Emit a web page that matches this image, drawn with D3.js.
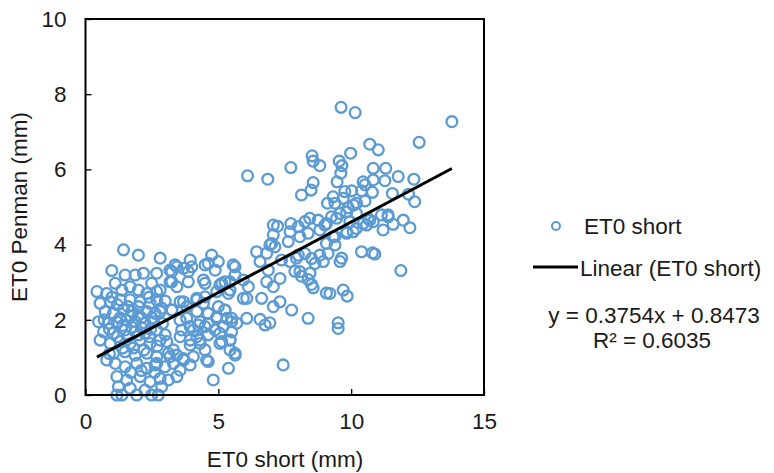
<!DOCTYPE html>
<html>
<head>
<meta charset="utf-8">
<script src="https://cdn.jsdelivr.net/npm/d3@7"></script>
<style>
  html, body { margin: 0; padding: 0; background: #fff; }
  text { font-family: "Liberation Sans", Arial, sans-serif; fill: #1a1a1a; }
</style>
</head>
<body>
<svg id="chart" width="774" height="473"></svg>
<script>
// ---- data ----
const xValues = [
  9.62,10.15,13.79,12.56,10.70,11.02,9.98,9.55,9.65,9.61,10.83,11.30,11.77,12.36,11.27,10.83,10.45,10.52,9.47,10.80,10.39,11.55,12.16,12.39,9.76,10.02,9.70,10.52,10.20,9.89,9.39,9.32,11.39,11.96,11.20,11.58,12.21,10.58,10.70,9.95,10.20,9.83,9.45,9.32,
  9.39,9.64,9.58,10.39,10.80,10.89,11.87,9.70,9.85,9.20,9.51,9.51,
  6.10,6.86,7.73,8.53,8.57,8.82,8.57,8.49,8.13,9.11,7.07,7.23,7.73,8.01,8.26,8.44,8.76,7.07,7.70,8.07,8.38,7.01,7.63,8.82,9.01,9.07,9.26,9.58,9.83,10.08,10.20,10.45,10.64,10.83,11.14,11.39,
  6.94,7.13,6.82,6.44,6.57,6.88,7.32,6.82,7.07,7.38,8.01,8.26,8.51,8.82,9.13,8.64,8.95,7.88,8.13,8.38,8.51,8.57,9.07,6.07,6.63,7.07,7.32,7.76,8.38,6.07,6.57,6.76,6.94,7.44,9.07,7.94,7.70,8.07,8.45,9.83,10.08,9.39,
  4.75,5.00,5.63,5.63,5.25,5.06,5.44,6.13,5.00,5.25,4.94,5.32,5.50,5.69,4.62,4.88,5.19,5.44,5.13,5.44,5.63,4.62,5.38,4.81,
  1.43,1.99,2.81,0.99,1.49,1.87,2.18,2.68,3.25,3.44,3.94,4.00,3.87,3.18,3.44,3.87,4.50,4.50,
  0.43,0.80,1.12,1.37,1.68,1.99,2.31,2.49,2.81,2.68,2.43,2.06,1.68,1.31,0.93,0.55,
  0.74,1.05,1.43,1.74,1.99,2.31,2.62,2.87,3.25,3.56,3.81,4.19,4.44,
  0.49,0.86,1.18,1.55,1.87,2.24,2.56,0.68,1.05,1.49,1.87,2.24,2.68,3.56,3.94,4.25,4.31,3.94,3.56,
  0.55,0.93,1.31,1.68,2.06,2.43,2.81,1.05,1.49,1.87,2.31,2.68,3.12,3.44,3.69,3.94,
  0.80,1.12,1.49,1.93,2.31,2.62,2.99,3.31,3.56,1.18,1.55,2.06,2.43,2.81,3.12,3.44,
  1.24,1.37,1.68,1.93,2.24,2.49,2.74,2.87,1.18,
  3.37,4.62,5.56,3.18,3.69,4.88,3.25,4.44,5.13,5.44,5.94,2.68,3.69,4.19,4.50,4.94,5.38,5.94,2.81,3.25,3.81,4.19,4.62,4.94,5.25,5.50,4.31,4.50,3.62,4.06,4.19,4.62,5.06,5.50,3.94,4.31,4.50,5.06,5.44,5.63,3.06,3.31,3.18,3.69,4.06,4.56,2.68,
  1.20,1.60,2.00,2.40,1.30,1.70,2.10,2.50,1.40,1.75,2.10,2.45,1.20,1.60,2.00,2.40,2.70,1.40,1.80,2.20,0.70,0.90,1.00,2.90,3.00,2.60,2.10,1.70,0.90,3.00
];
const yValues = [
  7.65,7.51,7.27,6.72,6.67,6.52,6.43,6.22,6.10,5.90,6.03,6.03,5.81,5.74,5.70,5.72,5.67,5.59,5.67,5.39,5.43,5.36,5.34,5.14,5.41,5.43,5.23,5.16,5.10,4.98,5.10,5.27,4.79,4.65,4.39,4.54,4.45,4.52,4.65,4.61,4.43,4.34,4.70,4.21,
  3.99,3.64,3.55,3.81,3.78,3.75,3.31,2.79,2.63,2.70,1.92,1.77,
  5.83,5.74,6.05,6.36,6.22,6.10,5.65,5.45,5.32,5.10,4.52,4.49,4.56,4.48,4.61,4.70,4.65,4.26,4.34,4.21,4.30,4.03,4.08,4.39,4.52,4.56,4.74,4.83,4.87,5.05,4.83,4.56,4.70,4.61,4.79,4.74,
  3.99,3.94,3.77,3.81,3.55,3.32,3.10,3.01,2.88,3.59,3.72,3.76,3.63,3.72,3.76,3.50,3.55,3.29,3.16,3.07,2.94,2.85,2.71,2.57,2.57,2.35,2.48,2.26,2.04,2.04,2.01,1.86,1.92,0.80,4.03,3.64,3.55,3.28,3.24,4.30,4.34,4.21,
  3.72,3.55,3.41,3.19,3.01,2.93,2.79,2.88,2.35,2.26,2.08,2.04,1.95,1.91,1.91,1.73,1.82,1.46,1.42,1.20,1.06,0.89,0.71,0.40,
  3.86,3.72,3.64,3.31,3.19,3.19,3.24,3.24,3.28,3.41,3.59,3.41,3.28,3.01,2.88,3.01,3.46,2.97,
  2.75,2.70,2.97,2.79,2.88,2.79,2.70,2.97,2.79,2.53,2.44,2.48,2.53,2.53,2.48,2.44,
  2.22,2.17,2.26,2.22,2.13,2.22,2.17,2.31,2.26,2.48,2.35,2.53,2.44,
  1.95,1.91,1.95,1.99,1.95,1.91,1.95,1.68,1.64,1.73,1.68,1.64,1.73,1.99,1.82,1.86,1.46,1.46,1.55,
  1.46,1.37,1.42,1.37,1.46,1.37,1.46,1.11,1.15,1.06,1.11,1.02,1.11,1.06,0.97,0.80,
  0.93,0.84,0.75,0.84,0.71,0.80,0.75,0.84,0.66,0.49,0.40,0.49,0.35,0.44,0.40,0.49,
  0.22,0.00,0.18,0.00,0.13,0.00,0.00,0.22,0.00,
  3.46,3.50,3.46,3.32,3.37,3.32,3.01,3.06,2.97,3.01,3.06,2.75,2.48,2.57,2.61,2.75,2.70,2.57,2.22,2.26,2.04,2.22,2.17,2.04,2.26,2.04,1.95,1.82,1.73,1.73,1.55,1.60,1.64,1.68,1.33,1.37,1.20,1.37,1.46,1.11,1.42,1.20,1.02,0.93,1.02,0.93,0.84,
  2.40,2.35,2.35,2.60,2.05,2.10,2.05,2.05,1.85,1.80,1.80,1.75,1.55,1.55,1.60,1.55,1.30,1.25,1.25,1.20,2.00,1.75,2.60,1.90,1.60,0.60,0.65,0.60,1.10,2.50
];
const seriesName = "ET0 short";
const trendName = "Linear (ET0 short)";
const slope = 0.3754;
const intercept = 0.8473;
const rSquared = "0.6035";
const xTicks = [0, 5, 10, 15];
const yTicks = [0, 2, 4, 6, 8, 10];
const xTitle = "ET0 short (mm)";
const yTitle = "ET0 Penman (mm)";

// ---- drawing ----
const svg = d3.select("#chart");
const L = 85.5, R = 484, T = 19, B = 395;
const x = d3.scaleLinear().domain([0, 15]).range([L, R]);
const y = d3.scaleLinear().domain([0, 10]).range([B, T]);
const blue = "#5B9BD5";
const fs = 22.5;

// points
const pts = xValues.map((v, i) => [v, yValues[i]]);
svg.append("g").selectAll("circle").data(pts).join("circle")
  .attr("cx", d => x(d[0])).attr("cy", d => y(d[1])).attr("r", 5.4)
  .attr("fill", "none").attr("stroke", blue).attr("stroke-width", 2.3);

// trend line
const x0 = d3.min(xValues), x1 = d3.max(xValues);
svg.append("line")
  .attr("x1", x(x0)).attr("y1", y(slope * x0 + intercept))
  .attr("x2", x(x1)).attr("y2", y(slope * x1 + intercept))
  .attr("stroke", "#000").attr("stroke-width", 3);

// axes (ticks inside)
const xAxis = d3.axisBottom(x).tickValues(xTicks).tickSize(-6).tickPadding(14).tickFormat(d3.format("d"));
const yAxis = d3.axisLeft(y).tickValues(yTicks).tickSize(-6).tickPadding(19).tickFormat(d3.format("d"));
const gx = svg.append("g").attr("transform", `translate(0,${B})`).call(xAxis);
const gy = svg.append("g").attr("transform", `translate(${L},0)`).call(yAxis);
[gx, gy].forEach(g => {
  g.select(".domain").remove();
  g.selectAll(".tick line").attr("stroke", "#000").attr("stroke-width", 1.3);
  g.selectAll(".tick text").style("font-size", fs + "px").style("font-family", "Liberation Sans, Arial, sans-serif").attr("fill", "#1a1a1a");
});
gx.selectAll(".tick text").attr("dy", "0.9em");

// frame
svg.append("rect").attr("x", L).attr("y", T).attr("width", R - L).attr("height", B - T)
  .attr("fill", "none").attr("stroke", "#000").attr("stroke-width", 2);

// titles
svg.append("text").attr("x", 285).attr("y", 459).attr("dy", "0.35em").attr("text-anchor", "middle")
  .style("font-size", fs + "px").text(xTitle);
svg.append("text").attr("transform", "translate(19,207) rotate(-90)").attr("dy", "0.35em").attr("text-anchor", "middle")
  .style("font-size", fs + "px").text(yTitle);

// legend
svg.append("circle").attr("cx", 556).attr("cy", 226).attr("r", 4)
  .attr("fill", "none").attr("stroke", blue).attr("stroke-width", 2);
svg.append("text").attr("x", 584).attr("y", 226).attr("dy", "0.35em").style("font-size", fs + "px").text(seriesName);
svg.append("line").attr("x1", 533).attr("x2", 578).attr("y1", 267).attr("y2", 267)
  .attr("stroke", "#000").attr("stroke-width", 3);
svg.append("text").attr("x", 580).attr("y", 268).attr("dy", "0.35em").style("font-size", fs + "px").text(trendName);

// equation
svg.append("text").attr("x", 654).attr("y", 315).attr("dy", "0.35em").attr("text-anchor", "middle")
  .style("font-size", fs + "px").text(`y = ${slope}x + ${intercept}`);
svg.append("text").attr("x", 652).attr("y", 340).attr("dy", "0.35em").attr("text-anchor", "middle")
  .style("font-size", fs + "px").text(`R² = ${rSquared}`);
</script>
</body>
</html>
